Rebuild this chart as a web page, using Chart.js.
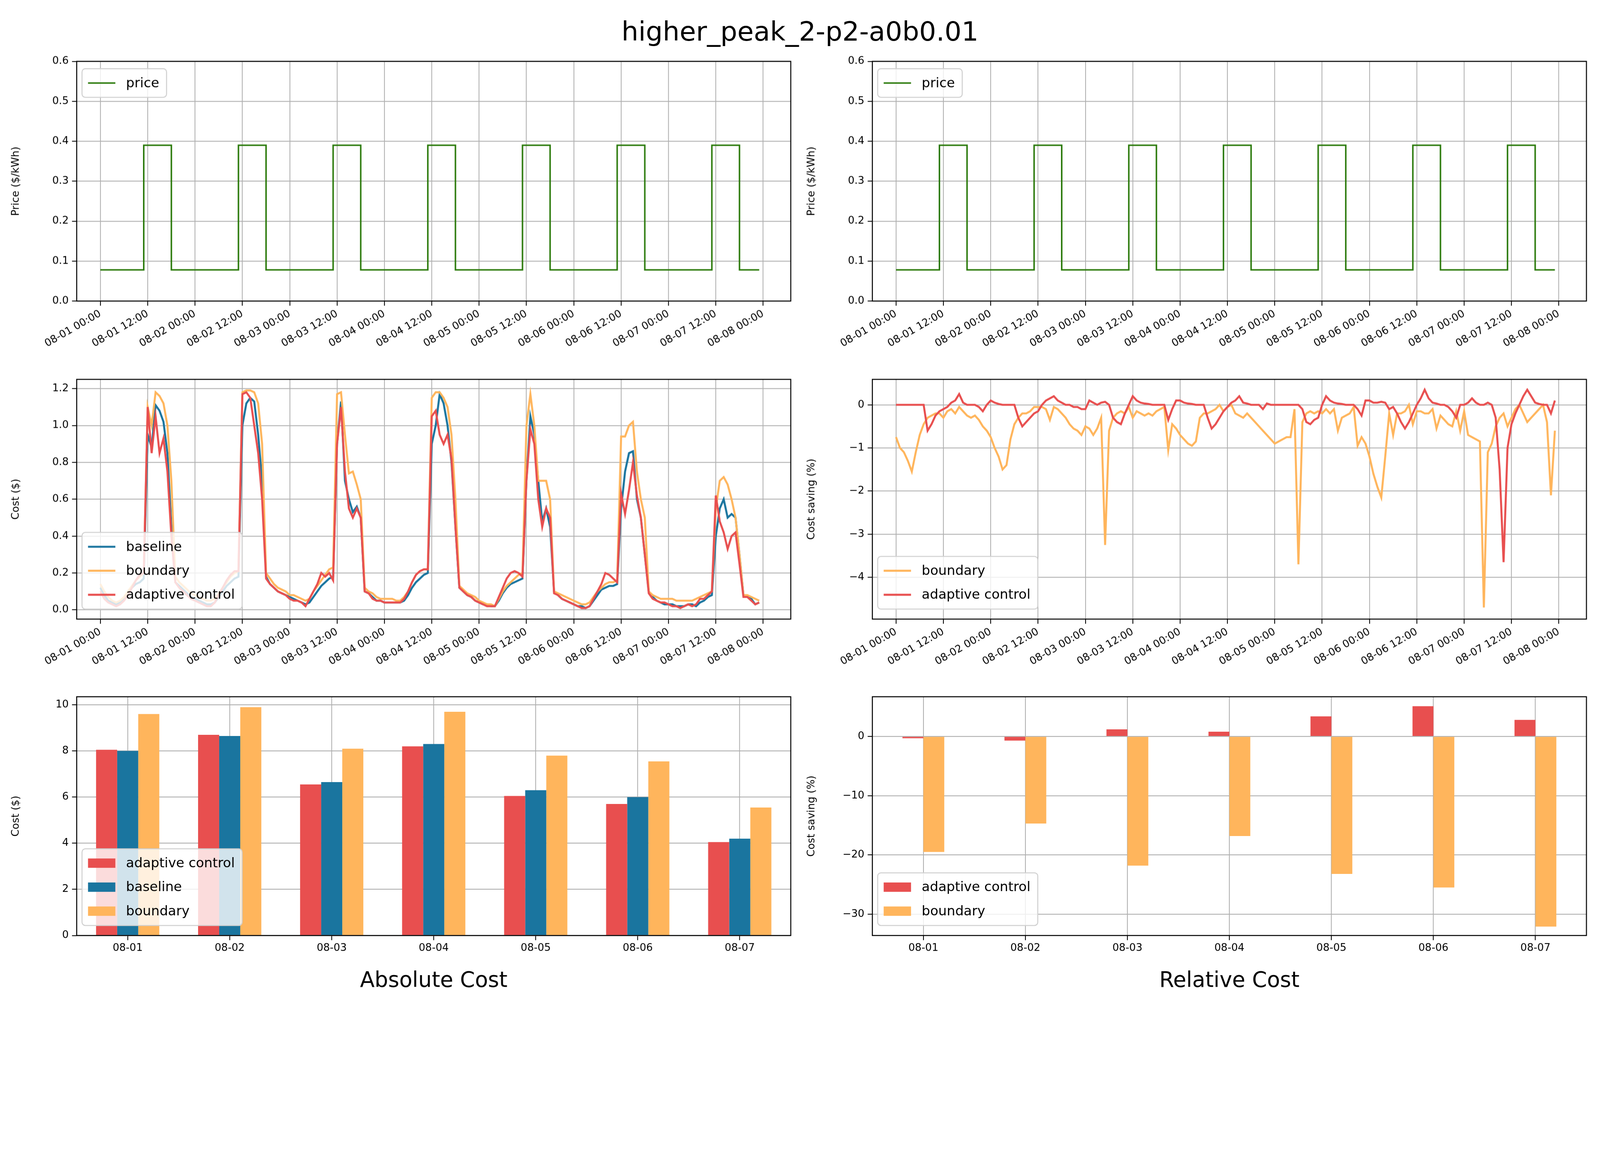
<!DOCTYPE html>
<html><head><meta charset="utf-8">
<script src="https://cdn.jsdelivr.net/npm/chart.js@4.4.0/dist/chart.umd.min.js"></script>
<style>
html,body{margin:0;padding:0;background:#fff;overflow:hidden;}
#wrap{position:absolute;left:0;top:0;width:4800px;height:3000px;background:#fff;transform-origin:0 0;font-family:"DejaVu Sans";}
canvas{position:absolute;}
#title{position:absolute;left:0;width:4800px;top:48px;text-align:center;font-size:80px;font-family:"DejaVu Sans";}
</style></head><body>
<div id="wrap">
<div id="title">higher_peak_2-p2-a0b0.01</div>
<canvas id="c1"></canvas><canvas id="c2"></canvas><canvas id="c3"></canvas>
<canvas id="c4"></canvas><canvas id="c5"></canvas><canvas id="c6"></canvas>
</div>
<script>
const S = Math.min(window.innerWidth/4800, window.innerHeight/3000) || 1;
document.getElementById('wrap').style.transform = 'scale('+S+')';
const DPR = (window.devicePixelRatio||1)*S;

const hours = Array.from({length:168},(_,i)=>i);
const days = ['08-01','08-02','08-03','08-04','08-05','08-06','08-07'];
const price = [
.078,.078,.078,.078,.078,.078,.078,.078,.078,.078,.078,.078,.39,.39,.39,.39,.39,.39,.39,.078,.078,.078,.078,.078,
.078,.078,.078,.078,.078,.078,.078,.078,.078,.078,.078,.078,.39,.39,.39,.39,.39,.39,.39,.078,.078,.078,.078,.078,
.078,.078,.078,.078,.078,.078,.078,.078,.078,.078,.078,.078,.39,.39,.39,.39,.39,.39,.39,.078,.078,.078,.078,.078,
.078,.078,.078,.078,.078,.078,.078,.078,.078,.078,.078,.078,.39,.39,.39,.39,.39,.39,.39,.078,.078,.078,.078,.078,
.078,.078,.078,.078,.078,.078,.078,.078,.078,.078,.078,.078,.39,.39,.39,.39,.39,.39,.39,.078,.078,.078,.078,.078,
.078,.078,.078,.078,.078,.078,.078,.078,.078,.078,.078,.078,.39,.39,.39,.39,.39,.39,.39,.078,.078,.078,.078,.078,
.078,.078,.078,.078,.078,.078,.078,.078,.078,.078,.078,.078,.39,.39,.39,.39,.39,.39,.39,.078,.078,.078,.078,.078];
const costBaseline = [
.12,.08,.05,.04,.03,.04,.06,.09,.12,.14,.15,.17,.95,.88,1.11,1.08,1.02,.85,.45,.15,.13,.11,.09,.07,
.06,.05,.04,.03,.03,.04,.07,.1,.13,.15,.17,.18,1.0,1.12,1.15,1.13,.95,.7,.18,.14,.12,.1,.09,.08,
.07,.06,.05,.04,.03,.04,.07,.1,.13,.15,.17,.18,.9,1.13,.7,.6,.53,.56,.5,.1,.09,.07,.05,.05,
.04,.04,.04,.04,.04,.05,.08,.12,.15,.17,.19,.2,.9,1.0,1.17,1.12,1.0,.8,.45,.12,.1,.08,.07,.05,
.04,.03,.03,.02,.02,.05,.09,.12,.14,.15,.16,.17,.7,1.05,.95,.7,.48,.55,.45,.1,.08,.06,.05,.04,
.03,.02,.02,.01,.02,.05,.08,.11,.12,.13,.13,.14,.55,.75,.85,.86,.6,.5,.3,.1,.07,.05,.04,.03,
.03,.03,.02,.02,.02,.03,.03,.02,.04,.05,.07,.08,.4,.55,.6,.5,.52,.5,.3,.08,.07,.06,.03,.04];
const costBoundary = [
.14,.1,.07,.05,.04,.05,.07,.1,.13,.16,.18,.2,1.1,1.0,1.18,1.16,1.12,1.0,.7,.18,.15,.13,.11,.09,
.08,.07,.06,.05,.05,.06,.09,.12,.15,.18,.2,.21,1.18,1.19,1.19,1.18,1.12,.9,.2,.17,.14,.12,.11,.1,
.08,.08,.07,.06,.05,.06,.1,.13,.16,.19,.22,.23,1.17,1.18,.95,.74,.75,.68,.6,.12,.1,.09,.07,.06,
.06,.06,.06,.05,.05,.07,.1,.15,.19,.21,.22,.22,1.15,1.18,1.18,1.15,1.1,.95,.6,.13,.11,.09,.08,.07,
.05,.04,.03,.03,.02,.06,.1,.13,.15,.17,.19,.2,1.0,1.17,1.0,.7,.7,.7,.6,.1,.09,.08,.07,.06,
.05,.04,.03,.03,.04,.07,.1,.12,.14,.15,.15,.16,.94,.94,1.0,1.02,.75,.6,.5,.1,.08,.07,.06,.06,
.06,.06,.05,.05,.05,.05,.05,.06,.07,.08,.09,.1,.55,.7,.72,.68,.6,.5,.3,.08,.08,.07,.06,.05];
const costAdaptive = [
.1,.06,.04,.03,.02,.03,.05,.08,.12,.16,.19,.2,1.1,.85,1.05,.85,.93,.75,.4,.15,.12,.1,.08,.06,
.05,.04,.03,.02,.02,.04,.08,.12,.16,.19,.21,.21,1.17,1.18,1.15,1.0,.85,.6,.17,.14,.12,.1,.09,.08,
.06,.05,.05,.04,.02,.06,.1,.14,.2,.18,.2,.16,.9,1.1,.75,.55,.5,.55,.5,.1,.09,.06,.05,.05,
.04,.04,.04,.04,.04,.06,.1,.15,.19,.21,.22,.22,1.05,1.08,.95,.9,.95,.82,.45,.12,.1,.08,.07,.05,
.04,.03,.02,.02,.02,.07,.12,.17,.2,.21,.2,.18,.7,.98,.9,.6,.45,.55,.5,.09,.08,.06,.05,.04,
.03,.02,.01,.01,.02,.06,.1,.14,.2,.19,.17,.15,.63,.52,.65,.8,.62,.5,.3,.09,.06,.05,.04,.04,
.03,.02,.02,.01,.02,.03,.02,.03,.06,.06,.08,.1,.62,.48,.42,.33,.4,.42,.25,.07,.07,.05,.03,.04];
const saveBoundary = [
-0.75,-1.0,-1.1,-1.3,-1.55,-1.1,-0.7,-0.45,-0.3,-0.25,-0.2,-0.2,-0.3,-0.15,-0.1,-0.2,-0.05,-0.15,-0.25,-0.3,-0.25,-0.35,-0.5,-0.6,
-0.75,-1.0,-1.2,-1.5,-1.4,-0.8,-0.45,-0.3,-0.2,-0.2,-0.15,-0.05,-0.05,-0.05,-0.1,-0.35,-0.05,-0.1,-0.2,-0.3,-0.45,-0.55,-0.6,-0.7,
-0.5,-0.55,-0.7,-0.55,-0.3,-3.25,-0.6,-0.3,-0.2,-0.15,-0.2,-0.05,-0.3,-0.15,-0.2,-0.25,-0.2,-0.25,-0.15,-0.1,-0.05,-1.05,-0.45,-0.55,
-0.7,-0.8,-0.9,-0.95,-0.85,-0.3,-0.2,-0.2,-0.15,-0.1,0.0,-0.15,-0.05,0.0,-0.2,-0.25,-0.3,-0.2,-0.3,-0.4,-0.5,-0.6,-0.7,-0.8,
-0.9,-0.85,-0.8,-0.75,-0.75,-0.1,-3.7,-0.4,-0.2,-0.15,-0.2,-0.15,-0.2,-0.1,-0.2,-0.1,-0.6,-0.3,-0.25,-0.2,-0.05,-0.95,-0.75,-0.9,
-1.2,-1.6,-1.9,-2.15,-1.2,-0.2,-0.7,-0.2,-0.2,-0.15,0.0,-0.45,-0.15,-0.15,-0.2,-0.2,-0.1,-0.55,-0.25,-0.35,-0.45,-0.5,-0.15,-0.6,
-0.15,-0.7,-0.75,-0.8,-0.85,-4.7,-1.1,-0.9,-0.5,-0.3,-0.2,-0.5,-0.3,-0.1,0.0,-0.2,-0.4,-0.3,-0.2,-0.1,0.0,-0.4,-2.1,-0.6];
const saveAdaptive = [
0,0,0,0,0,0,0,0,-0.6,-0.45,-0.25,-0.15,-0.1,-0.05,0.05,0.1,0.25,0.05,0.0,0.0,0.0,-0.05,-0.15,0.0,
0.1,0.05,0.02,0.0,0.0,0.0,0.0,-0.3,-0.5,-0.4,-0.3,-0.2,-0.15,0.0,0.1,0.15,0.2,0.1,0.05,0.0,0.0,-0.05,-0.05,-0.1,
-0.1,0.1,0.05,0.0,0.05,0.07,0.0,-0.3,-0.4,-0.45,-0.2,0.0,0.2,0.1,0.05,0.03,0.02,0.0,0.0,0.0,0.0,-0.35,-0.1,0.1,
0.1,0.05,0.03,0.02,0.0,0.0,0.0,-0.3,-0.55,-0.45,-0.3,-0.15,-0.05,0.05,0.1,0.2,0.05,0.03,0.0,0.0,0.0,-0.1,0.03,0.0,
0.0,0.0,0.0,0.0,0.0,0.0,0.0,-0.1,-0.4,-0.45,-0.35,-0.3,0.0,0.2,0.1,0.05,0.03,0.02,0.0,0.0,0.0,-0.1,-0.25,0.1,
0.1,0.05,0.05,0.07,0.05,-0.1,-0.05,-0.2,-0.4,-0.55,-0.4,-0.2,0.0,0.15,0.35,0.15,0.05,0.03,0.0,0.0,-0.05,-0.15,-0.3,0.0,
0.0,0.05,0.15,0.05,0.0,0.0,0.05,0.0,-0.3,-1.5,-3.65,-1.0,-0.45,-0.2,0.0,0.2,0.35,0.2,0.05,0.02,0.0,0.0,-0.2,0.1];
const dayAdaptive = [8.05,8.7,6.55,8.2,6.05,5.7,4.05];
const dayBaseline = [8.0,8.65,6.65,8.3,6.3,6.0,4.2];
const dayBoundary = [9.6,9.9,8.1,9.7,7.8,7.55,5.55];
const relAdaptive = [-0.3,-0.7,1.2,0.8,3.4,5.1,2.8];
const relBoundary = [-19.5,-14.7,-21.8,-16.8,-23.2,-25.5,-32.1];

const C = {green:'#2b7a0b', blue:'#1a759f', orange:'#ffb55c', red:'#e84f4f', grid:'#b0b0b0'};
const F = '"DejaVu Sans"';
const pts = a => a.map((v,i)=>({x:hours[i],y:v}));
const minus = s => String(s).replace('-', '\u2212');

const frameLegend = {
  id:'frameLegend',
  afterDraw(chart, args, opts){
    const ctx = chart.ctx, a = chart.chartArea;
    ctx.save();
    ctx.strokeStyle='#000'; ctx.lineWidth=3;
    ctx.strokeRect(a.left, a.top, a.right-a.left, a.bottom-a.top);
    const items = opts.items || [];
    if(items.length){
      ctx.font = '40px '+F;
      const tw = Math.max(...items.map(it=>ctx.measureText(it.label).width));
      const rowH = 72, w = 18+82+32+tw+22, h = items.length*rowH+14;
      const x = a.left+16;
      const y = opts.loc==='ul' ? a.top+22 : a.bottom-30-h;
      ctx.fillStyle='rgba(255,255,255,0.8)'; ctx.strokeStyle='#d0d0d0'; ctx.lineWidth=3;
      ctx.beginPath(); ctx.roundRect(x,y,w,h,10); ctx.fill(); ctx.stroke();
      items.forEach((it,i)=>{
        const cy = y+7+rowH*i+rowH/2;
        if(it.rect){ ctx.fillStyle=it.color; ctx.fillRect(x+18,cy-14,82,28); }
        else { ctx.strokeStyle=it.color; ctx.lineWidth=it.lw||6; ctx.beginPath(); ctx.moveTo(x+18,cy); ctx.lineTo(x+100,cy); ctx.stroke(); }
        ctx.fillStyle='#000'; ctx.textBaseline='middle'; ctx.textAlign='left';
        ctx.fillText(it.label, x+132, cy+2);
      });
    }
    ctx.restore();
  }
};

function place(id, left, top, pw, ph, bottomH){
  const c = document.getElementById(id);
  const w = 230+pw+40, h = 30+ph+bottomH;
  c.style.width = w+'px'; c.style.height = h+'px';
  c.width = w; c.height = h;
  c.style.left = (left-230)+'px'; c.style.top = (top-30)+'px';
  return c;
}
const tickFont = {family:F,size:31};
function yScale(title, min, max, step, fmt){
  return {type:'linear', min, max,
    ticks:{stepSize:step, includeBounds:false, color:'#000', font:tickFont, padding:10, callback:fmt},
    grid:{color:C.grid, lineWidth:2.5, tickLength:14, tickColor:'#000'},
    border:{display:false},
    title:{display:true, text:title, color:'#000', font:{family:F,size:31}, padding:{top:30,bottom:0}},
    afterFit(s){ s.width=230; }};
}
function timeX(){
  return {type:'linear', min:-6, max:175,
    ticks:{stepSize:12, includeBounds:false, autoSkip:false, minRotation:30, maxRotation:30, color:'#000', font:tickFont, padding:6,
      callback:v=>'08-0'+(1+Math.floor(v/24))+' '+(v%24===0?'00:00':'12:00')},
    grid:{color:C.grid, lineWidth:2.5, tickLength:14, tickColor:'#000'},
    border:{display:false},
    afterFit(s){ s.height=260; }};
}
const base = {responsive:false, maintainAspectRatio:false, animation:false, devicePixelRatio:DPR,
  layout:{padding:{left:0,top:30,right:40,bottom:0}}, elements:{point:{radius:0}}};

function lineChart(id, left, top, datasets, y, loc, items){
  const c = place(id, left, top, 2142, 719, 260);
  new Chart(c, {type:'line', data:{datasets},
    options:{...base, plugins:{legend:{display:false}, tooltip:{enabled:false}, frameLegend:{loc, items}},
      scales:{x:timeX(), y}}, plugins:[frameLegend]});
}
const ds = (label, data, color, lw, order, extra={}) => ({label, data:pts(data), borderColor:color, borderWidth:lw, order, fill:false, tension:0, ...extra});

lineChart('c1', 230, 184, [ds('price', price, C.green, 4.5, 0, {stepped:'after'})],
  yScale('Price ($/kWh)', 0, 0.6, 0.1, v=>v.toFixed(1)), 'ul', [{label:'price', color:C.green, lw:4.5}]);
lineChart('c2', 2617, 184, [ds('price', price, C.green, 4.5, 0, {stepped:'after'})],
  yScale('Price ($/kWh)', 0, 0.6, 0.1, v=>v.toFixed(1)), 'ul', [{label:'price', color:C.green, lw:4.5}]);
lineChart('c3', 230, 1138, [
  ds('baseline', costBaseline, C.blue, 6, 2),
  ds('boundary', costBoundary, C.orange, 6, 1),
  ds('adaptive control', costAdaptive, C.red, 6, 0)],
  yScale('Cost ($)', -0.05, 1.25, 0.2, v=>v.toFixed(1)), 'll',
  [{label:'baseline',color:C.blue},{label:'boundary',color:C.orange},{label:'adaptive control',color:C.red}]);
lineChart('c4', 2617, 1138, [
  ds('boundary', saveBoundary, C.orange, 6, 1),
  ds('adaptive control', saveAdaptive, C.red, 6, 0)],
  yScale('Cost saving (%)', -4.97, 0.59, 1, v=>minus(v)), 'll',
  [{label:'boundary',color:C.orange},{label:'adaptive control',color:C.red}]);

function barChart(id, left, datasets, y, xtitle, items){
  const c = place(id, left, 2090, 2142, 716, 180);
  new Chart(c, {type:'bar', data:{labels:days, datasets},
    options:{...base, plugins:{legend:{display:false}, tooltip:{enabled:false}, frameLegend:{loc:'ll', items}},
      scales:{
        x:{type:'category', offset:true,
          ticks:{color:'#000', font:tickFont, padding:6, maxRotation:0},
          grid:{offset:false, color:C.grid, lineWidth:2.5, tickLength:14, tickColor:'#000'},
          border:{display:false},
          title:{display:true, text:xtitle, color:'#000', font:{family:F,size:64}, padding:{top:4}},
          afterFit(s){ s.height=180; }},
        y}}, plugins:[frameLegend]});
}
const bd = (label, data, color, cp) => ({label, data, backgroundColor:color, borderWidth:0, categoryPercentage:cp, barPercentage:1});
barChart('c5', 230, [
  bd('adaptive control', dayAdaptive, C.red, 0.62),
  bd('baseline', dayBaseline, C.blue, 0.62),
  bd('boundary', dayBoundary, C.orange, 0.62)],
  yScale('Cost ($)', 0, 10.35, 2, v=>v), 'Absolute Cost',
  [{label:'adaptive control',color:C.red,rect:true},{label:'baseline',color:C.blue,rect:true},{label:'boundary',color:C.orange,rect:true}]);
barChart('c6', 2617, [
  bd('adaptive control', relAdaptive, C.red, 0.41),
  bd('boundary', relBoundary, C.orange, 0.41)],
  yScale('Cost saving (%)', -33.6, 6.7, 10, v=>minus(v)), 'Relative Cost',
  [{label:'adaptive control',color:C.red,rect:true},{label:'boundary',color:C.orange,rect:true}]);
</script></body></html>
